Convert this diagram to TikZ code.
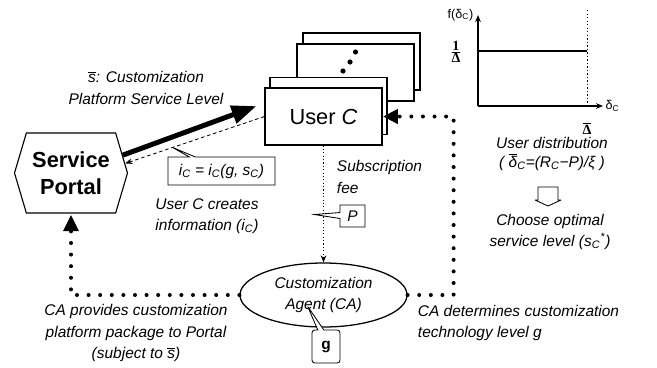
\documentclass[tikz,border=0pt]{standalone}
\usepackage{fontspec}
\setmainfont{Liberation Sans}
\newfontfamily\tmsfont{Liberation Serif}
\usetikzlibrary{arrows.meta, positioning, shapes.geometric, shapes.symbols, shapes.callouts, calc}

\newcommand{\lblfont}{\fontsize{11}{15}\selectfont\itshape}
\newcommand{\ovr}[1]{\ensuremath{\overline{\mbox{#1}}}}

\tikzset{
    userbox/.style = {draw, fill=white, line width=0.8pt, minimum width=2.925cm, minimum height=1.425cm},
    portal/.style = {signal, signal to=east and west, signal pointer angle=147, draw, line width=0.8pt,
        minimum width=2.825cm, minimum height=2cm, inner sep=0pt, align=center,
        font=\fontsize{15.5}{19}\selectfont\bfseries},
    agent/.style = {ellipse, draw, line width=0.9pt, minimum width=4.175cm, minimum height=1.6cm,
        inner sep=0pt, align=center, font=\lblfont},
    note/.style = {rectangle callout, draw, fill=white, line width=0.6pt, inner sep=1pt,
        callout pointer width=0.15cm, font=\lblfont},
    lbl/.style = {align=center, font=\lblfont},
    bigdots/.style = {line width=0.1cm, dash pattern=on 0pt off 0.29cm, line cap=round},
    thindash/.style = {line width=0.6pt, dash pattern=on 2.5pt off 2pt, -{Stealth[length=5pt, width=4pt]}},
    thindots/.style = {line width=0.7pt, dash pattern=on 0.8pt off 1.6pt, -{Stealth[length=5pt, width=4pt]}},
    axis/.style = {line width=0.8pt, -{Stealth[length=5pt, width=4pt]}},
}

\begin{document}
\begin{tikzpicture} [node distance = 2cm, on grid, auto]
    \useasboundingbox (0,0) rectangle (16.425,-9.175);

    % stack of users
    \node (uc4) [userbox] at (9.0375,-1.5375) {};
    \node (uc3) [userbox, below left = 0.275cm and 0.15cm of uc4] {};
    \foreach \dx/\dy in {0/0.5125, -0.1375/0.2625, -0.3125/0.0375}
        \fill ([shift={(\dx,\dy)}]uc3.center) circle (0.065);
    \node (uc2) [userbox, below left = 0.8375cm and 0.675cm of uc3] {};
    \node (uc) [userbox, below left = 0.2625cm and 0.125cm of uc2, font=\fontsize{15.5}{19}\selectfont] {User \textit{C}};

    \node (sp) [portal, below left = 1.4125cm and 6.3125cm of uc] {Service\\Portal};
    \node (ca) [agent, below = 4.4625cm of uc] {Customization\\Agent (CA)};

    % arrows between portal, user and agent
    \draw[line width=0.125cm, -{Triangle[length=0.62cm, width=0.45cm]}] (sp.19) -- ([shift={(-0.2,0.26)}]uc.west);
    \draw[thindash] (uc.west) -- (sp.10);
    \draw[thindots] (uc.south) -- (ca.north);
    \draw[bigdots] (ca.east) -- ++(1.15,0) |- (uc.east);
    \draw[bigdots] (ca.west) -| (sp.south);
    \fill ([xshift=0.02cm]uc.east) -- ++(0.36,0.19) -- ++(0,-0.38) -- cycle;
    \fill ([yshift=-0.04cm]sp.south) -- ++(0.2,-0.4) -- ++(-0.4,0) -- cycle;

    % notes
    \node (ic) [note, above right = 0.05cm and 3.7625cm of sp, minimum width=2.675cm, minimum height=0.7cm,
        callout absolute pointer={($(uc.west)!0.66!(sp.10)$)}]
        {\textit{i}\textsubscript{C} = \textit{i}\textsubscript{C}(\textit{g}, \textit{s}\textsubscript{C})};
    \node (fee) [note, below right = 2.4875cm and 0.725cm of uc, minimum width=0.625cm, minimum height=0.55cm,
        callout relative pointer={(-0.64,0.025)}] {P};
    \node (gg) [note, below right = 1.2875cm and 0.0625cm of ca, minimum width=0.7cm, minimum height=0.825cm,
        rounded corners=2pt, callout relative pointer={(-0.275,0.6)}, font=\fontsize{11}{15}\selectfont\bfseries] {g};

    % labels
    \node (lblS) [lbl] at (3.65,-2.2) {\ovr{s}: Customization\\Platform Service Level};
    \node (lblCreates) [lbl] at (5.175,-5.4) {User C creates\\information (\textit{i}\textsubscript{C})};
    \node (lblFee) [lbl, anchor=west, align=left] at (8.3,-4.425) {Subscription\\fee};
    \node (lblProvides) [lbl] at (3.4,-8.325) {CA provides customization\\platform package to Portal\\(subject to \ovr{s})};
    \node (lblDetermines) [lbl, anchor=west, align=left] at (10.325,-8.075) {CA determines customization\\technology level g};

    % user distribution chart
    \coordinate (o) at (11.95,-2.65);
    \coordinate (ytop) at (11.95,-0.375);
    \coordinate (xend) at (15.075,-2.65);
    \coordinate (lvl) at (11.95,-1.275);
    \coordinate (dtop) at (14.675,-0.25);
    \coordinate (dbot) at (14.675,-2.65);
    \draw[axis] (o) -- (ytop);
    \draw[axis] (o) -- (xend);
    \draw[line width=1.6pt] (lvl) -- (lvl -| dtop);
    \draw[line width=0.6pt, dash pattern=on 1pt off 1.5pt] (dtop) -- (dbot);
    \node (fLbl) [anchor=east, font=\fontsize{9}{10}\selectfont, inner sep=1pt] at (11.875,-0.375) {f(δ\textsubscript{C})};
    \node (dLbl) [anchor=west, font=\fontsize{9}{10}\selectfont, inner sep=1pt] at (15.1,-2.65) {δ\textsubscript{C}};
    \node (oneOver) [font=\fontsize{10}{12}\selectfont\tmsfont\bfseries, inner sep=1pt] at (11.4,-1.3) {$\frac{\mbox{1}}{\mbox{Δ}}$};
    \node (dBar) [font=\fontsize{10}{12}\selectfont\tmsfont\bfseries, inner sep=1pt] at (14.675,-3.2) {$\overline{\mbox{Δ}}$};

    \node (lblDist) [lbl, font=\fontsize{11}{13}\selectfont\itshape] at (13.8,-3.85)
        {User distribution\\( \ovr{δ}\textsubscript{C}=(R\textsubscript{C}−P)/ξ )};
    % open arrow down to the choice
    \coordinate (choose) at (13.7,-4.9);
    \draw[line width=0.6pt, line join=round]
        ([shift={(-0.25,0.225)}]choose) -- ++(0,-0.325) -- ++(-0.075,0) -- ([yshift=-0.25cm]choose)
        -- ([shift={(0.325,-0.1)}]choose) -- ++(-0.075,0) -- ([shift={(0.25,0.225)}]choose) -- cycle;
    \node (lblChoose) [lbl] at (13.75,-5.8) {Choose optimal\\service level (s\textsubscript{C}\textsuperscript{*})};
\end{tikzpicture}
\end{document}
